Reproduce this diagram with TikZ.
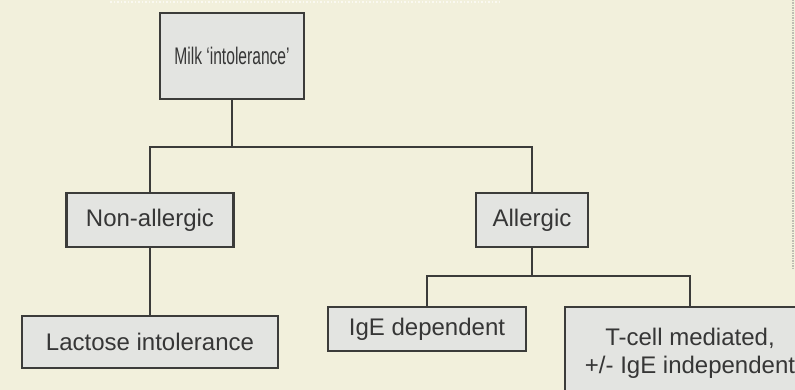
\documentclass[tikz,border=0pt]{standalone}
\usepackage{fontspec}
\setmainfont{Liberation Sans}
\usepackage{graphicx}
\definecolor{paper}{HTML}{F2F0DC}
\definecolor{boxfill}{HTML}{E3E4E1}
\definecolor{boxline}{HTML}{3C3C3A}
\definecolor{ink}{HTML}{363636}

\begin{document}
\begin{tikzpicture} [x=1pt,y=-1pt,
    box/.style={draw=boxline,fill=boxfill,line width=2.4pt,inner sep=0pt,
        font=\fontsize{24}{28}\selectfont,text=ink,align=center},
    conn/.style={draw=boxline,line width=2pt}]
    \useasboundingbox (0,0) rectangle (795,390);

    % paper and frame edges
    \fill[paper] (0,0) rectangle (795,390);
    \clip (0,0) rectangle (795,390);
    \draw[white!60!paper,dotted,line width=1.5pt] (110,2) -- (500,2);
    \draw[gray!45!paper,densely dotted,line width=1.5pt] (793,0) -- (793,270);

    % boxes
    \node[box,minimum width=144,minimum height=86] (milk) at (232,56)
        {\scalebox{0.65}[1]{Milk `intolerance'}};
    \node[box,minimum width=167,minimum height=54] (nonallergic) at (150,220) {Non-allergic};
    \node[box,minimum width=112,minimum height=54] (allergic) at (532,220) {Allergic};
    \node[box,minimum width=256,minimum height=52] (lactose) at (150,342) {Lactose intolerance};
    \node[box,minimum width=198,minimum height=44] (ige) at (427,329) {IgE dependent};
    \node[box,minimum width=250,minimum height=92] (tcell) at (690,353)
        {T-cell mediated,\\+/- IgE independent};

    % tree lines
    \draw[conn] (milk.south) -- (milk.south |- 0,147) -| (nonallergic.north);
    \draw[conn] (milk.south |- 0,147) -| (allergic.north);
    \draw[conn] (nonallergic.south) -- (lactose.north);
    \draw[conn] (allergic.south) -- (allergic.south |- 0,276) -| (ige.north);
    \draw[conn] (allergic.south |- 0,276) -| (tcell.north);

\end{tikzpicture}
\end{document}
